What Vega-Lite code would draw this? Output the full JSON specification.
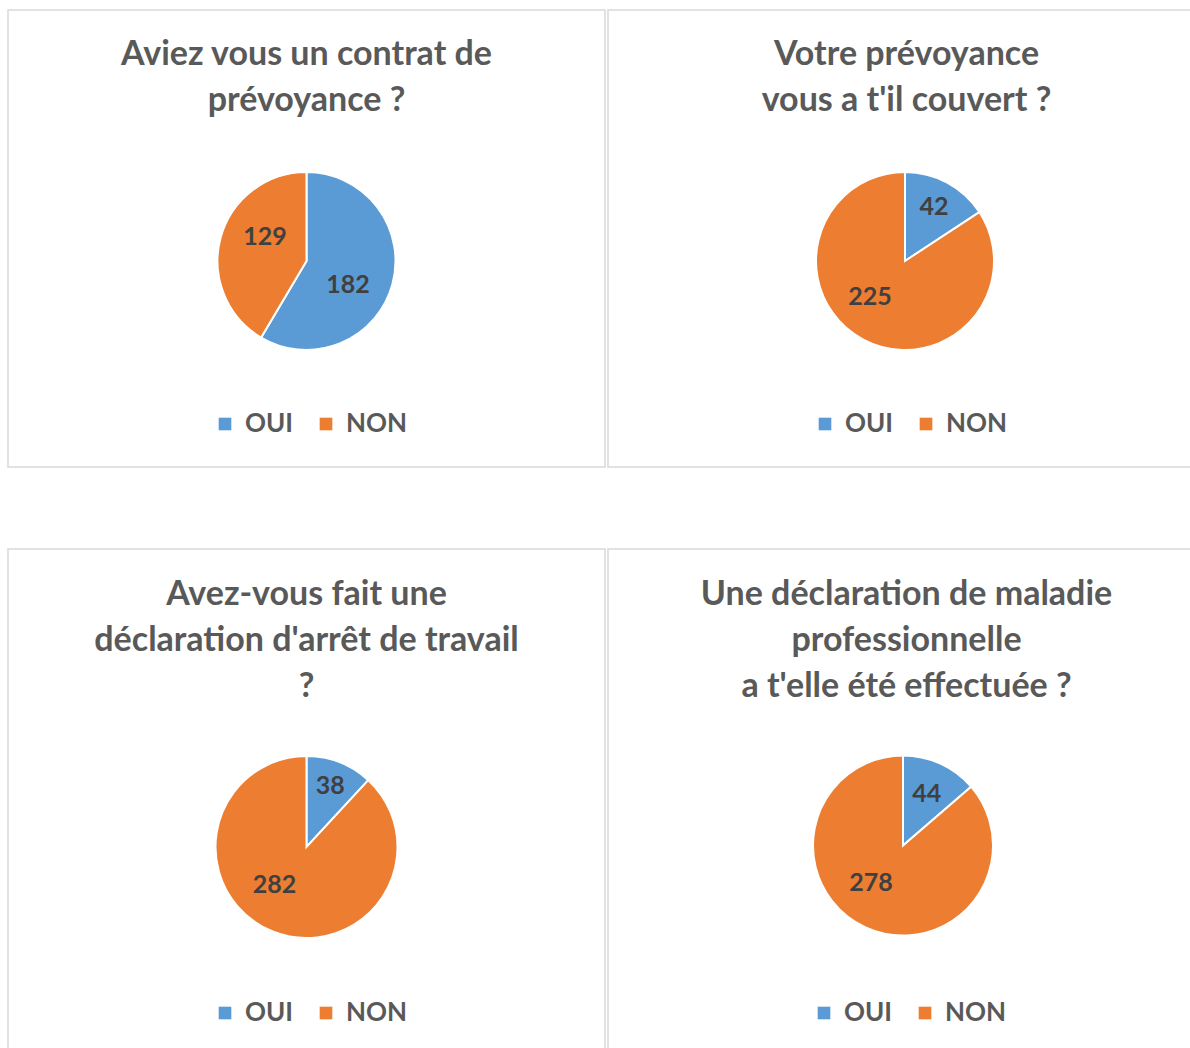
{
  "$schema": "https://vega.github.io/schema/vega-lite/v6.json",
  "padding": {"left": 7, "top": 9, "right": 0, "bottom": 0},
  "background": "white",
  "config": {
    "font": "Lato",
    "view": {"stroke": "#d9d9d9", "strokeWidth": 1.5},
    "style": {"cell": {"stroke": "#d9d9d9", "strokeWidth": 1.5}},
    "title": {"font": "Lato", "fontWeight": "bold", "fontSize": 34, "color": "#595959", "lineHeight": 46, "anchor": "middle"},
    "legend": {
      "orient": "none", "direction": "horizontal", "title": null, "padding": 0,
      "symbolType": "square", "symbolSize": 160, "symbolStrokeWidth": 0,
      "labelFont": "Lato", "labelFontWeight": "bold", "labelFontSize": 26, "labelColor": "#595959",
      "labelOffset": 7, "columnPadding": 19
    }
  },
  "datasets": {
    "q1": [{"reponse": "OUI", "n": 182}, {"reponse": "NON", "n": 129}],
    "q2": [{"reponse": "OUI", "n": 42}, {"reponse": "NON", "n": 225}],
    "q3": [{"reponse": "OUI", "n": 38}, {"reponse": "NON", "n": 282}],
    "q4": [{"reponse": "OUI", "n": 44}, {"reponse": "NON", "n": 278}]
  },
  "resolve": {"legend": {"color": "independent"}},
  "spacing": 80,
  "vconcat": [
    {
      "hconcat": [
        {
          "width": 597, "height": 457,
          "view": {"stroke": "#d9d9d9", "strokeWidth": 1.5},
          "data": {"name": "q1"},
          "title": {"text": ["Aviez vous un contrat de", "prévoyance ?"], "offset": -108},
          "encoding": {
            "theta": {"field": "n", "type": "quantitative", "stack": true},
            "order": {"field": "reponse", "sort": "descending"}
          },
          "layer": [
            {"mark": {"type": "arc", "outerRadius": 89, "stroke": "white", "strokeWidth": 2, "y": 251},
             "encoding": {"color": {"field": "reponse", "type": "nominal", "scale": {"domain": ["OUI", "NON"], "range": ["#5B9BD5", "#ED7D31"]}, "legend": {"legendX": 204, "legendY": 401}}}},
            {"mark": {"type": "text", "radius": 48, "thetaOffset": 0.26, "font": "Lato", "fontWeight": "bold", "fontSize": 25, "fill": "#404040", "y": 251},
             "encoding": {"text": {"field": "n", "type": "quantitative"}}}
          ]
        },
        {
          "width": 597, "height": 457,
          "view": {"stroke": "#d9d9d9", "strokeWidth": 1.5},
          "data": {"name": "q2"},
          "title": {"text": ["Votre prévoyance", "vous a t'il couvert ?"], "offset": -108},
          "encoding": {
            "theta": {"field": "n", "type": "quantitative", "stack": true},
            "order": {"field": "reponse", "sort": "descending"}
          },
          "layer": [
            {"mark": {"type": "arc", "outerRadius": 89, "stroke": "white", "strokeWidth": 2, "x": 297, "y": 251},
             "encoding": {"color": {"field": "reponse", "type": "nominal", "scale": {"domain": ["OUI", "NON"], "range": ["#5B9BD5", "#ED7D31"]}, "legend": {"legendX": 204, "legendY": 401}}}},
            {"mark": {"type": "text", "radius": 61, "font": "Lato", "fontWeight": "bold", "fontSize": 25, "fill": "#404040", "x": 297, "y": 251},
             "encoding": {"text": {"condition": {"test": "datum.reponse == 'OUI'", "field": "n", "type": "quantitative"}, "value": ""}}},
            {"mark": {"type": "text", "radius": 50, "thetaOffset": 0.28, "font": "Lato", "fontWeight": "bold", "fontSize": 25, "fill": "#404040", "x": 297, "y": 251},
             "encoding": {"text": {"condition": {"test": "datum.reponse == 'NON'", "field": "n", "type": "quantitative"}, "value": ""}}}
          ]
        }
      ],
      "spacing": 1,
      "resolve": {"legend": {"color": "independent"}}
    },
    {
      "hconcat": [
        {
          "width": 597, "height": 508,
          "view": {"stroke": "#d9d9d9", "strokeWidth": 1.5},
          "data": {"name": "q3"},
          "title": {"text": ["Avez-vous fait une", "déclaration d'arrêt de travail", "?"], "offset": -155},
          "encoding": {
            "theta": {"field": "n", "type": "quantitative", "stack": true},
            "order": {"field": "reponse", "sort": "descending"}
          },
          "layer": [
            {"mark": {"type": "arc", "outerRadius": 91, "stroke": "white", "strokeWidth": 2, "y": 298},
             "encoding": {"color": {"field": "reponse", "type": "nominal", "scale": {"domain": ["OUI", "NON"], "range": ["#5B9BD5", "#ED7D31"]}, "legend": {"legendX": 204, "legendY": 451}}}},
            {"mark": {"type": "text", "radius": 65, "font": "Lato", "fontWeight": "bold", "fontSize": 25, "fill": "#404040", "y": 298},
             "encoding": {"text": {"condition": {"test": "datum.reponse == 'OUI'", "field": "n", "type": "quantitative"}, "value": ""}}},
            {"mark": {"type": "text", "radius": 50, "thetaOffset": 0.32, "font": "Lato", "fontWeight": "bold", "fontSize": 25, "fill": "#404040", "y": 298},
             "encoding": {"text": {"condition": {"test": "datum.reponse == 'NON'", "field": "n", "type": "quantitative"}, "value": ""}}}
          ]
        },
        {
          "width": 597, "height": 508,
          "view": {"stroke": "#d9d9d9", "strokeWidth": 1.5},
          "data": {"name": "q4"},
          "title": {"text": ["Une déclaration de maladie", "professionnelle", "a t'elle été effectuée ?"], "offset": -155},
          "encoding": {
            "theta": {"field": "n", "type": "quantitative", "stack": true},
            "order": {"field": "reponse", "sort": "descending"}
          },
          "layer": [
            {"mark": {"type": "arc", "outerRadius": 90, "stroke": "white", "strokeWidth": 2, "x": 295, "y": 296.5},
             "encoding": {"color": {"field": "reponse", "type": "nominal", "scale": {"domain": ["OUI", "NON"], "range": ["#5B9BD5", "#ED7D31"]}, "legend": {"legendX": 203, "legendY": 451}}}},
            {"mark": {"type": "text", "radius": 57, "font": "Lato", "fontWeight": "bold", "fontSize": 25, "fill": "#404040", "x": 295, "y": 296.5},
             "encoding": {"text": {"condition": {"test": "datum.reponse == 'OUI'", "field": "n", "type": "quantitative"}, "value": ""}}},
            {"mark": {"type": "text", "radius": 49, "thetaOffset": 0.28, "font": "Lato", "fontWeight": "bold", "fontSize": 25, "fill": "#404040", "x": 295, "y": 296.5},
             "encoding": {"text": {"condition": {"test": "datum.reponse == 'NON'", "field": "n", "type": "quantitative"}, "value": ""}}}
          ]
        }
      ],
      "spacing": 1,
      "resolve": {"legend": {"color": "independent"}}
    }
  ]
}
